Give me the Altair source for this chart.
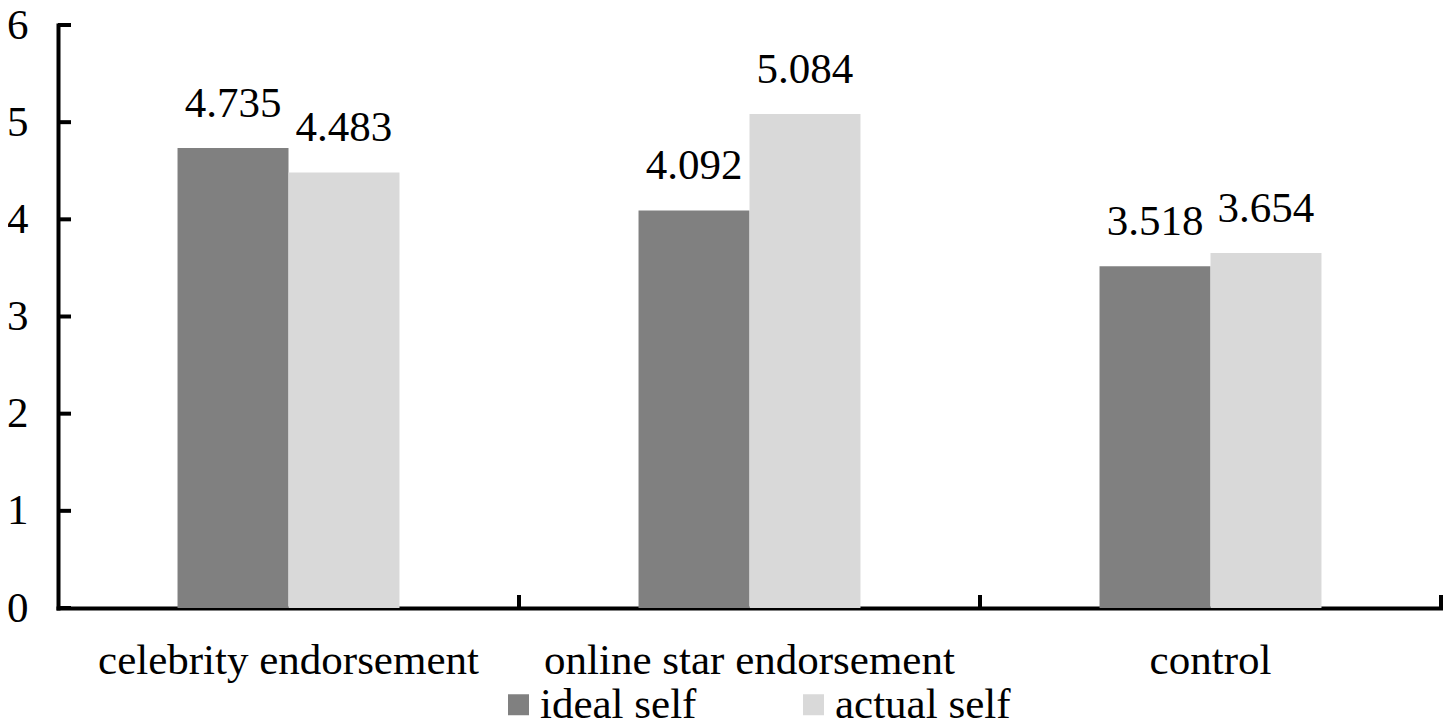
import altair as alt
import pandas as pd

categories = ["celebrity endorsement", "online star endorsement", "control"]
series = ["ideal self", "actual self"]
ideal_values = [4.735, 4.092, 3.518]
actual_values = [4.483, 5.084, 3.654]
y_ticks = [0, 1, 2, 3, 4, 5, 6]
colors = ["#808080", "#d9d9d9"]

rows = []
for c, iv, av in zip(categories, ideal_values, actual_values):
    rows.append({"cat": c, "series": series[0], "value": iv, "label": f"{iv:.3f}"})
    rows.append({"cat": c, "series": series[1], "value": av, "label": f"{av:.3f}"})
df = pd.DataFrame(rows)
tick_df = pd.DataFrame({"value": y_ticks})
cat_df = pd.DataFrame({"cat": categories})

W = 1383
H = 583
FONT = "'Liberation Serif', 'Times New Roman', serif"
FS = 43

# empty slots on each side of a group leave the gaps between groups
offset_domain = ["_gap_left"] + series + ["_gap_right"]

x_scale = alt.Scale(domain=categories, paddingInner=0, paddingOuter=0)
xo_scale = alt.Scale(domain=offset_domain, paddingInner=0, paddingOuter=0.077)
y_scale = alt.Scale(domain=[0, 6], nice=False, zero=True)
color_scale = alt.Scale(domain=series, range=colors)

x_axis = alt.Axis(title=None, labelAngle=0, labelFont=FONT, labelFontSize=FS,
                  labelColor="black", ticks=False, tickSize=0, labelPadding=31,
                  domain=True, domainColor="black", domainWidth=4, domainCap="square",
                  grid=False, labelLimit=0)
y_axis = alt.Axis(title=None, values=y_ticks, labelFont=FONT, labelFontSize=FS,
                  labelColor="black", ticks=False, tickSize=0, labelPadding=30,
                  domain=True, domainColor="black", domainWidth=4, domainCap="square",
                  grid=False, format="d")

X = alt.X("cat:N", scale=x_scale, sort=categories, axis=x_axis)
Y = alt.Y("value:Q", scale=y_scale, axis=y_axis)
XO = alt.XOffset("series:N", scale=xo_scale)

bars = alt.Chart(df).mark_bar().encode(
    x=X,
    xOffset=XO,
    y=Y,
    color=alt.Color("series:N", scale=color_scale, sort=series,
                    legend=alt.Legend(title=None, orient="none", legendX=439, legendY=658,
                                      direction="horizontal", columns=2,
                                      symbolType="square", symbolSize=441,
                                      symbolStrokeWidth=0, symbolOpacity=1,
                                      labelFont=FONT, labelFontSize=FS, labelColor="black",
                                      labelOffset=0, columnPadding=95, padding=0,
                                      labelLimit=0)),
)

labels = alt.Chart(df).mark_text(dy=-31, baseline="alphabetic", font=FONT,
                                 fontSize=FS, color="black").encode(
    x=X,
    xOffset=XO,
    y=Y,
    text="label:N",
)

y_tick_marks = alt.Chart(tick_df).mark_rule(color="black", strokeWidth=4).encode(
    y=Y,
    x=alt.value(0),
    x2=alt.value(13),
)

x_tick_marks = alt.Chart(cat_df).mark_rule(color="black", strokeWidth=4).encode(
    x=alt.X("cat:N", scale=x_scale, sort=categories, axis=x_axis, bandPosition=1),
    y=alt.value(H),
    y2=alt.value(H - 13),
)

chart = alt.layer(bars, labels, y_tick_marks, x_tick_marks).properties(
    width=W, height=H,
    autosize=alt.AutoSizeParams(type="none"),
    padding={"left": 50, "top": 17, "right": 2, "bottom": 116},
).configure_view(stroke=None)

chart.save("out.html", embed_options={"renderer": "svg", "actions": False})
